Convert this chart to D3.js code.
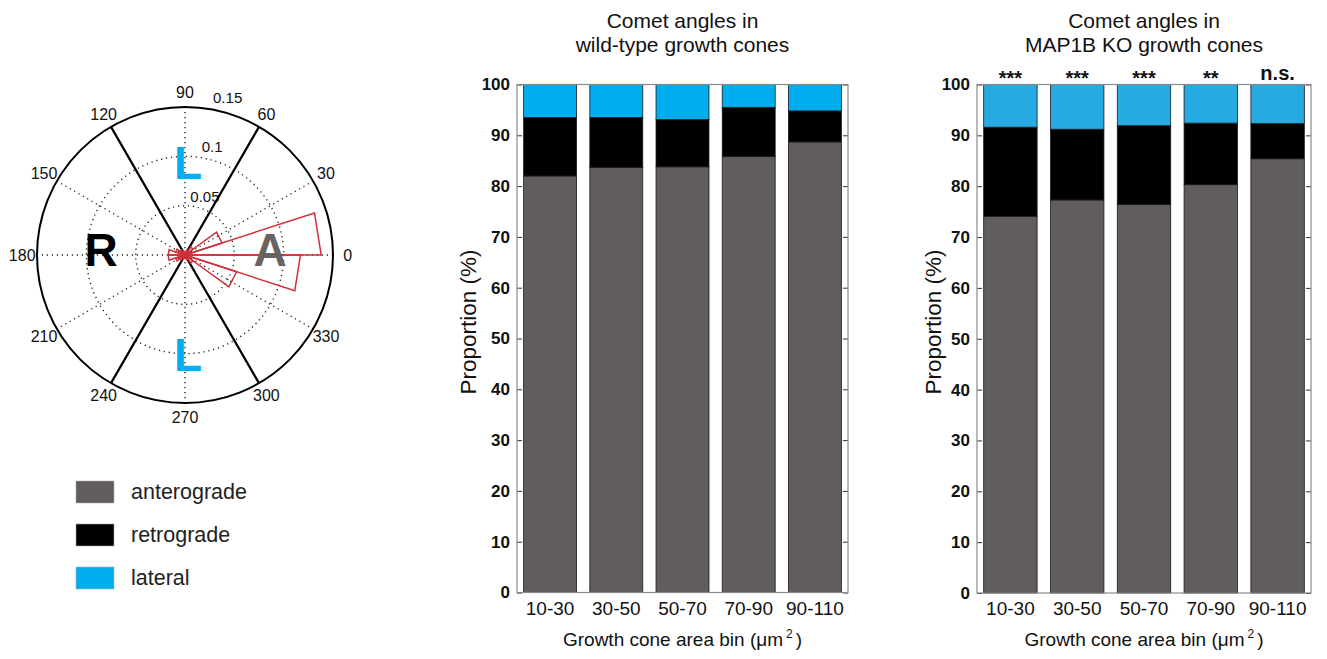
<!DOCTYPE html>
<html>
<head>
<meta charset="utf-8">
<script src="https://cdn.jsdelivr.net/npm/d3@7"></script>
<style>
  html, body { margin: 0; padding: 0; background: #fff; }
  svg { display: block; font-family: "Liberation Sans", Arial, sans-serif; }
</style>
</head>
<body>
<svg id="chart" width="1327" height="659"></svg>
<script>
// ---------------- DATA ----------------
// Rose (angle histogram) : 20 bins of 18 degrees, start angle of each bin
const roseBinStart = [0, 18, 36, 54, 72, 90, 108, 126, 144, 162, 180, 198, 216, 234, 252, 270, 288, 306, 324, 342];
const roseValues   = [0.138, 0.0395, 0.010, 0.005, 0.003, 0.003, 0.004, 0.006, 0.010, 0.017, 0.017, 0.010, 0.006, 0.004, 0.003, 0.003, 0.005, 0.010, 0.055, 0.117];
const ringTicks    = [0.05, 0.1, 0.15];
const angleTicks   = [0, 30, 60, 90, 120, 150, 180, 210, 240, 270, 300, 330];

// Bar charts
const bins        = ["10-30", "30-50", "50-70", "70-90", "90-110"];
const seriesNames = ["anterograde", "retrograde", "lateral"];
const wtAntero    = [82.0, 83.7, 83.8, 85.8, 88.7];
const wtRetro     = [11.5, 9.8, 9.3, 9.7, 6.1];
const wtLateral   = [6.5, 6.5, 6.9, 4.5, 5.2];
const koAntero    = [74.1, 77.3, 76.4, 80.3, 85.4];
const koRetro     = [17.5, 13.9, 15.5, 12.1, 6.9];
const koLateral   = [8.4, 8.8, 8.1, 7.6, 7.7];
const koSig       = ["***", "***", "***", "**", "n.s."];
const yTicks      = [0, 10, 20, 30, 40, 50, 60, 70, 80, 90, 100];

// ---------------- STYLE ----------------
const GRAY = "#625d5d";
const BLACK = "#000000";
const BLUE_WT = "#00aeef";
const BLUE_KO = "#27a9e1";
const ROSE_RED = "#d0303a";

const svg = d3.select("#chart");
svg.append("rect").attr("width", 1327).attr("height", 659).attr("fill", "#fff");

// ---------------- POLAR ----------------
const cx = 185, cy = 255, R = 148;
const rScale = d3.scaleLinear().domain([0, 0.15]).range([0, R]);
// math angle (deg, ccw from east) -> d3 radial angle (rad, cw from north)
const aScale = d3.scaleLinear().domain([0, 360]).range([Math.PI / 2, Math.PI / 2 - 2 * Math.PI]);
const polar = svg.append("g").attr("transform", `translate(${cx},${cy})`);
const px = (deg, r) => r * Math.cos(deg * Math.PI / 180);
const py = (deg, r) => -r * Math.sin(deg * Math.PI / 180);

// dotted rings
polar.selectAll("circle.ring").data(ringTicks.filter(d => d < 0.15)).join("circle")
  .attr("class", "ring").attr("r", d => rScale(d))
  .attr("fill", "none").attr("stroke", "#222").attr("stroke-width", 1.4)
  .attr("stroke-dasharray", "1.2,3.8");
// dotted spokes
polar.selectAll("line.spoke").data(angleTicks.filter(d => d < 180)).join("line")
  .attr("class", "spoke")
  .attr("x1", d => px(d, R)).attr("y1", d => py(d, R))
  .attr("x2", d => px(d + 180, R)).attr("y2", d => py(d + 180, R))
  .attr("stroke", "#222").attr("stroke-width", 1.4).attr("stroke-dasharray", "1.2,3.8");
// outer circle
polar.append("circle").attr("r", rScale(0.15)).attr("fill", "none")
  .attr("stroke", "#000").attr("stroke-width", 2);
// angle labels
polar.selectAll("text.ang").data(angleTicks).join("text")
  .attr("class", "ang")
  .attr("x", d => px(d, R * 1.1)).attr("y", d => py(d, R * 1.1))
  .attr("text-anchor", "middle").attr("dominant-baseline", "central")
  .attr("font-size", 16).attr("fill", "#111").text(d => d);
// radial labels
polar.selectAll("text.rad").data(ringTicks).join("text")
  .attr("class", "rad")
  .attr("x", d => 0.23 * rScale(d) - 6).attr("y", d => -rScale(d) - 4)
  .attr("font-size", 15).attr("fill", "#111").text(d => d);

// sector dividers (solid)
polar.selectAll("line.sector").data([60, 120]).join("line")
  .attr("class", "sector")
  .attr("x1", d => px(d, R)).attr("y1", d => py(d, R))
  .attr("x2", d => px(d + 180, R)).attr("y2", d => py(d + 180, R))
  .attr("stroke", "#000").attr("stroke-width", 2.2);

// rose bins
const rose = d3.lineRadial().angle(d => aScale(d[0])).radius(d => rScale(d[1]));
polar.selectAll("path.rose").data(roseBinStart.map((s, i) => ({ s, v: roseValues[i] }))).join("path")
  .attr("class", "rose")
  .attr("d", d => rose([[d.s, 0], [d.s, d.v], [d.s + 18, d.v], [d.s + 18, 0]]) + "Z")
  .attr("fill", "none").attr("stroke", ROSE_RED).attr("stroke-width", 1.5)
  .attr("stroke-linejoin", "miter");

// big letters
const big = [
  { t: "R", x: 101, y: 250, c: "#000" },
  { t: "A", x: 270, y: 250, c: "#666362" },
  { t: "L", x: 188, y: 163, c: BLUE_WT },
  { t: "L", x: 188, y: 355, c: BLUE_WT }
];
polar.selectAll("text.big").data(big).join("text")
  .attr("class", "big")
  .attr("x", d => d.x - cx).attr("y", d => d.y - cy)
  .attr("text-anchor", "middle").attr("dominant-baseline", "central")
  .attr("font-size", 46).attr("font-weight", "bold").attr("fill", d => d.c).text(d => d.t);

// ---------------- LEGEND ----------------
const legendColors = [GRAY, BLACK, BLUE_WT];
const leg = svg.append("g").attr("transform", "translate(76,481)");
const legItems = leg.selectAll("g").data(seriesNames).join("g")
  .attr("transform", (d, i) => `translate(0,${i * 43})`);
legItems.append("rect").attr("width", 38).attr("height", 22)
  .attr("fill", (d, i) => legendColors[i]).attr("stroke", "#aaa").attr("stroke-width", 0.6);
legItems.append("text").attr("x", 55).attr("y", 11).attr("dominant-baseline", "central")
  .attr("font-size", 21.5).attr("fill", "#222").text(d => d);

// ---------------- BAR CHARTS ----------------
function barChart(opts) {
  const { left, right, top, bottom, antero, retro, lateral, blue, title, sig, ylabelX } = opts;
  const g = svg.append("g");
  const x = d3.scaleBand().domain(bins).range([left, right]).paddingInner(0.2).paddingOuter(0.1);
  const y = d3.scaleLinear().domain([0, 100]).range([bottom, top]);

  // ticks (inward) left and right
  const yl = g.append("g").attr("transform", `translate(${left},0)`)
    .call(d3.axisLeft(y).tickValues(yTicks).tickSizeInner(-5).tickSizeOuter(0).tickPadding(7));
  yl.select(".domain").remove();
  yl.selectAll(".tick line").attr("stroke", "#333");
  yl.selectAll(".tick text").attr("font-family", "Liberation Sans, Arial, sans-serif")
    .attr("font-size", 17).attr("font-weight", "bold").attr("fill", "#111");
  const yr = g.append("g").attr("transform", `translate(${right},0)`)
    .call(d3.axisRight(y).tickValues(yTicks).tickSizeInner(-5).tickSizeOuter(0).tickFormat(""));
  yr.select(".domain").remove();
  yr.selectAll(".tick line").attr("stroke", "#333");

  // stacked bars
  const rows = bins.map((b, i) => ({ bin: b, anterograde: antero[i], retrograde: retro[i], lateral: lateral[i] }));
  const stack = d3.stack().keys(seriesNames)(rows);
  const colors = [GRAY, BLACK, blue];
  g.selectAll("g.layer").data(stack).join("g").attr("class", "layer")
    .attr("fill", (d, i) => colors[i])
    .selectAll("rect").data(d => d).join("rect")
    .attr("x", d => x(d.data.bin)).attr("width", x.bandwidth())
    .attr("y", d => y(d[1])).attr("height", d => y(d[0]) - y(d[1]))
    .attr("stroke", "#1a1a1a").attr("stroke-width", 0.8);

  // frame
  g.append("rect").attr("x", left).attr("y", top).attr("width", right - left).attr("height", bottom - top)
    .attr("fill", "none").attr("stroke", "#8a8a8a").attr("stroke-width", 1.2);

  // x labels
  const xa = g.append("g").attr("transform", `translate(0,${bottom})`)
    .call(d3.axisBottom(x).tickSize(0).tickPadding(9));
  xa.select(".domain").remove();
  xa.selectAll(".tick text").attr("font-family", "Liberation Sans, Arial, sans-serif")
    .attr("font-size", 19).attr("fill", "#111");

  // x title
  const xt = g.append("text").attr("x", (left + right) / 2).attr("y", 646)
    .attr("text-anchor", "middle").attr("font-size", 19).attr("fill", "#111");
  xt.append("tspan").text("Growth cone area bin (μm");
  xt.append("tspan").attr("dx", 3).attr("dy", -8).attr("font-size", 12).text("2");
  xt.append("tspan").attr("dx", 3).attr("dy", 8).text(")");

  // y title
  g.append("text").attr("transform", `translate(${ylabelX},322) rotate(-90)`)
    .attr("text-anchor", "middle").attr("font-size", 22.5).attr("fill", "#111").text("Proportion (%)");

  // title
  const tt = g.append("text").attr("x", (left + right) / 2).attr("text-anchor", "middle")
    .attr("font-size", 21).attr("fill", "#111");
  tt.append("tspan").attr("x", (left + right) / 2).attr("y", 28).text(title[0]);
  tt.append("tspan").attr("x", (left + right) / 2).attr("y", 52).text(title[1]);

  if (sig) {
    g.selectAll("text.sig").data(sig.map((s, i) => ({ s, b: bins[i] }))).join("text")
      .attr("class", "sig")
      .attr("x", d => x(d.b) + x.bandwidth() / 2)
      .attr("y", d => d.s.includes("*") ? 85 : 80)
      .attr("text-anchor", "middle").attr("font-size", 20).attr("font-weight", "bold")
      .attr("fill", "#111").text(d => d.s);
  }
}

barChart({ left: 517, right: 848, top: 84.5, bottom: 592.5,
  antero: wtAntero, retro: wtRetro, lateral: wtLateral, blue: BLUE_WT,
  title: ["Comet angles in", "wild-type growth cones"], sig: null, ylabelX: 476 });
barChart({ left: 977, right: 1311, top: 84.5, bottom: 593,
  antero: koAntero, retro: koRetro, lateral: koLateral, blue: BLUE_KO,
  title: ["Comet angles in", "MAP1B KO growth cones"], sig: koSig, ylabelX: 941 });
</script>
</body>
</html>
